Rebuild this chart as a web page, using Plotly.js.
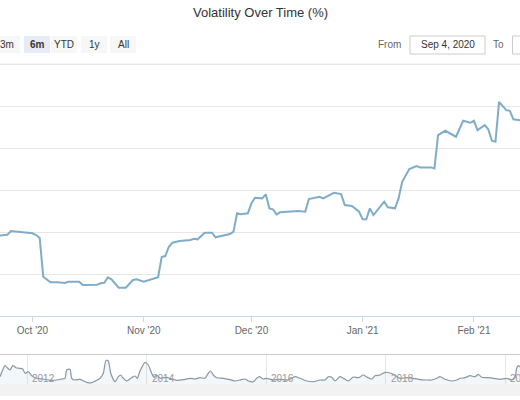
<!DOCTYPE html>
<html>
<head>
<meta charset="utf-8">
<script src="https://cdn.plot.ly/plotly-3.0.1.min.js"></script>
<style>html,body{margin:0;padding:0;background:#fff;}#chart{width:520px;height:400px;}</style>
</head>
<body>
<div id="chart"></div>
<script>
// ---- data ----
var chartTitle = 'Volatility Over Time (%)';
var mainDates = ['2020-09-21','2020-09-24','2020-09-25','2020-09-27','2020-10-01','2020-10-02','2020-10-03','2020-10-04','2020-10-06','2020-10-08','2020-10-10','2020-10-11','2020-10-14','2020-10-15','2020-10-19','2020-10-20','2020-10-21','2020-10-22','2020-10-23','2020-10-25','2020-10-27','2020-10-29','2020-10-30','2020-11-01','2020-11-04','2020-11-05','2020-11-06','2020-11-07','2020-11-08','2020-11-09','2020-11-11','2020-11-14','2020-11-15','2020-11-16','2020-11-18','2020-11-20','2020-11-21','2020-11-23','2020-11-25','2020-11-26','2020-11-27','2020-11-28','2020-11-30','2020-12-01','2020-12-02','2020-12-04','2020-12-05','2020-12-06','2020-12-07','2020-12-08','2020-12-09','2020-12-14','2020-12-16','2020-12-17','2020-12-19','2020-12-20','2020-12-21','2020-12-24','2020-12-26','2020-12-27','2020-12-29','2020-12-31','2021-01-01','2021-01-02','2021-01-03','2021-01-04','2021-01-05','2021-01-07','2021-01-08','2021-01-10','2021-01-11','2021-01-12','2021-01-14','2021-01-16','2021-01-17','2021-01-20','2021-01-21','2021-01-22','2021-01-24','2021-01-26','2021-01-27','2021-01-29','2021-01-31','2021-02-01','2021-02-02','2021-02-04','2021-02-05','2021-02-06','2021-02-07','2021-02-08','2021-02-10','2021-02-11','2021-02-12','2021-02-14'];
var mainValues = [9.55,9.68,10.12,10.04,9.85,9.64,9.29,4.68,4.01,4.01,3.93,4.08,4.08,3.69,3.73,3.89,3.96,4.61,4.37,3.37,3.37,4.29,4.37,4.08,4.49,4.61,7.02,7.14,8.25,8.73,8.93,9.05,9.20,9.13,9.92,9.92,9.37,9.52,9.76,10.04,12.23,12.11,12.23,13.42,14.08,14.01,14.49,12.82,12.70,12.11,12.35,12.50,12.42,13.93,14.13,14.20,14.01,14.68,14.52,13.21,13.10,12.42,11.51,11.51,12.82,12.02,12.54,13.61,12.94,12.82,14.01,15.99,17.50,17.86,17.70,17.70,17.58,21.55,22.06,21.55,21.35,23.25,23.01,23.25,22.14,22.74,22.23,20.87,20.75,25.51,24.52,24.44,23.42,23.3];
var navYears = [2011.543,2011.588,2011.627,2011.665,2011.710,2011.756,2011.811,2011.866,2011.923,2011.962,2012.017,2012.074,2012.157,2012.268,2012.380,2012.492,2012.576,2012.631,2012.659,2012.715,2012.743,2012.798,2012.882,2012.994,2013.078,2013.162,2013.217,2013.272,2013.317,2013.356,2013.396,2013.468,2013.523,2013.563,2013.607,2013.664,2013.747,2013.803,2013.841,2013.886,2013.970,2014.025,2014.082,2014.121,2014.166,2014.221,2014.276,2014.333,2014.388,2014.500,2014.611,2014.723,2014.807,2014.890,2014.974,2015.029,2015.069,2015.113,2015.170,2015.280,2015.392,2015.476,2015.560,2015.643,2015.699,2015.782,2015.839,2015.883,2015.950,2016.007,2016.117,2016.229,2016.368,2016.480,2016.564,2016.676,2016.787,2016.899,2016.982,2017.038,2017.095,2017.150,2017.234,2017.289,2017.373,2017.457,2017.540,2017.624,2017.681,2017.764,2017.819,2017.903,2017.987,2018.070,2018.126,2018.238,2018.350,2018.460,2018.572,2018.684,2018.768,2018.852,2018.907,2018.991,2019.103,2019.187,2019.242,2019.326,2019.409,2019.493,2019.548,2019.605,2019.689,2019.799,2019.912,2020.024,2020.107,2020.162,2020.190,2020.217,2020.246,2020.30];
var navValues = [7.3,14,18.3,16.3,14,18.3,16.3,15.7,15,10.7,12.3,8.3,5.7,5,3.7,4,5,5.7,14,14.7,5.7,4,4.7,1.7,1.3,3.7,5.7,10.7,23.7,23,10.7,2.3,7.3,9,5.7,3,6.3,8,5.7,13,21.7,19,10.7,6.7,9,5.7,6.3,6.7,5.7,3.7,4.3,5.7,5,6.3,5.7,10.7,13,9,6.3,5.7,4.3,3,4,5,3,2.3,5.7,7.3,5,5.7,4,4.7,4,7.3,5.7,3,2.3,4,4,7.3,6.7,3,7.3,5.7,3,7,6.3,9,7,5,8.3,9,11.7,11,9.7,5.7,6.3,5.7,4.3,4,4,5.7,7.3,4.7,3,4,5.7,6.3,8.3,7.3,9.7,6.7,6.3,5.7,4.7,5.7,4,6.3,15.7,18.3,17.3,17];
var navTickYears = [2012, 2014, 2016, 2018, 2020];
var navTickLabels = ['2012', '2014', '2016', '2018', '2020'];
var rangeButtons = ['3m', '6m', 'YTD', '1y', 'All'];
var selectedButton = '6m';
var fromLabel = 'From', toLabel = 'To', fromDate = 'Sep 4, 2020';

// ---- layout helpers (pixel -> paper) ----
var W = 520, H = 400;
function px(x) { return x / W; }
function py(y) { return (H - y) / H; }
var FONT = 'Liberation Sans, Arial, sans-serif';

var traces = [
  {
    x: mainDates, y: mainValues, type: 'scatter', mode: 'lines',
    line: { color: '#7fadc9', width: 2 }, xaxis: 'x', yaxis: 'y', hoverinfo: 'x+y'
  },
  {
    x: navYears, y: navValues, type: 'scatter', mode: 'lines',
    line: { color: '#8797a5', width: 1.2, shape: 'spline', smoothing: 0.6 },
    fill: 'tozeroy', fillcolor: 'rgba(120,150,180,0.08)',
    xaxis: 'x2', yaxis: 'y2', hoverinfo: 'skip'
  }
];

var shapes = [];
var annotations = [];

// title
annotations.push({ text: chartTitle, xref: 'paper', yref: 'paper', x: 0.5, y: py(12),
  xanchor: 'center', yanchor: 'middle', showarrow: false, font: { family: FONT, size: 13, color: '#333333' } });

// range selector buttons
var btnCenters = [7, 37, 64, 94, 123];
rangeButtons.forEach(function (b, i) {
  var c = btnCenters[i];
  var sel = (b === selectedButton);
  shapes.push({ type: 'rect', xref: 'paper', yref: 'paper', x0: px(c - 13), x1: px(c + 13), y0: py(53), y1: py(36),
    fillcolor: sel ? '#e6ebf5' : '#f7f7f7', line: { width: 0 }, layer: 'below' });
  annotations.push({ text: sel ? '<b>' + b + '</b>' : b, xref: 'paper', yref: 'paper', x: px(c), y: py(44.5),
    xanchor: 'center', yanchor: 'middle', showarrow: false, font: { family: FONT, size: 10, color: '#333333' } });
});

// From / To inputs
annotations.push({ text: fromLabel, xref: 'paper', yref: 'paper', x: px(403), y: py(44.5), xanchor: 'right', yanchor: 'middle',
  showarrow: false, font: { family: FONT, size: 10, color: '#666666' } });
shapes.push({ type: 'rect', xref: 'paper', yref: 'paper', x0: px(410), x1: px(485), y0: py(54), y1: py(36),
  fillcolor: '#ffffff', line: { color: '#cccccc', width: 1 } });
annotations.push({ text: fromDate, xref: 'paper', yref: 'paper', x: px(447.5), y: py(44.5), xanchor: 'center', yanchor: 'middle',
  showarrow: false, font: { family: FONT, size: 10, color: '#333333' } });
annotations.push({ text: toLabel, xref: 'paper', yref: 'paper', x: px(506), y: py(44.5), xanchor: 'right', yanchor: 'middle',
  showarrow: false, font: { family: FONT, size: 10, color: '#666666' } });
shapes.push({ type: 'rect', xref: 'paper', yref: 'paper', x0: px(512.5), x1: px(540), y0: py(54), y1: py(36),
  fillcolor: '#ffffff', line: { color: '#cccccc', width: 1 } });

// top gridline of the main plot (value 30)
shapes.push({ type: 'line', xref: 'paper', yref: 'y', x0: 0, x1: 1, y0: 30, y1: 30,
  line: { color: '#e6e6e6', width: 1 }, layer: 'below' });

// navigator outline and scrollbar track
shapes.push({ type: 'line', xref: 'paper', yref: 'paper', x0: 0, x1: 1, y0: py(354.5), y1: py(354.5),
  line: { color: '#cccccc', width: 1 } });
shapes.push({ type: 'rect', xref: 'paper', yref: 'paper', x0: 0, x1: 1, y0: py(396), y1: py(384),
  fillcolor: '#f2f2f2', line: { width: 0 }, layer: 'below' });

// navigator year labels
navTickYears.forEach(function (yr, i) {
  annotations.push({ text: navTickLabels[i], xref: 'x2', yref: 'paper', x: yr, y: py(378), xanchor: 'left', yanchor: 'middle',
    xshift: 3, showarrow: false, font: { family: FONT, size: 10, color: '#999999' } });
});

var layout = {
  width: W, height: H,
  margin: { l: 0, r: 0, t: 0, b: 0, pad: 0 },
  paper_bgcolor: '#ffffff', plot_bgcolor: 'rgba(0,0,0,0)',
  showlegend: false,
  font: { family: FONT },
  xaxis: {
    type: 'date', domain: [0, 1], anchor: 'y',
    range: ['2020-09-21 22:40', '2021-02-13 20:00'],
    tick0: '2020-10-01', dtick: 'M1', tickformat: "%b '%y",
    ticks: 'outside', ticklen: 5, tickcolor: '#ccd6eb', tickwidth: 1,
    showline: true, linecolor: '#ccd6eb', linewidth: 1,
    showgrid: false, zeroline: false,
    tickfont: { family: FONT, size: 10, color: '#666666' }
  },
  yaxis: {
    domain: [py(316), py(62)], anchor: 'x', range: [0, 30.25], dtick: 5, tick0: 0,
    showticklabels: false, gridcolor: '#e6e6e6', gridwidth: 1, zeroline: false, showline: false
  },
  xaxis2: {
    domain: [0, 1], anchor: 'y2', range: [2011.543, 2020.246],
    tickvals: navTickYears, showticklabels: false, showgrid: true, gridcolor: '#e6e6e6',
    zeroline: false, showline: false, ticks: ''
  },
  yaxis2: {
    domain: [py(384), py(355)], anchor: 'x2', range: [0, 29],
    showticklabels: false, showgrid: false, zeroline: false, showline: false
  },
  shapes: shapes,
  annotations: annotations
};

Plotly.newPlot('chart', traces, layout, { staticPlot: true, displayModeBar: false });
</script>
</body>
</html>
